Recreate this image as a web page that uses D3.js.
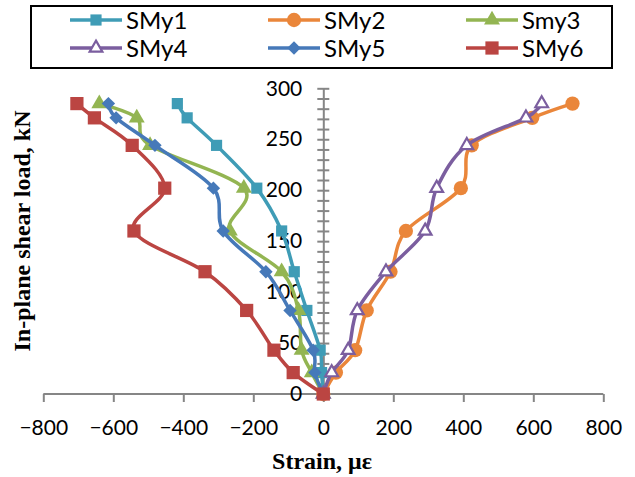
<!DOCTYPE html>
<html>
<head>
<meta charset="utf-8">
<script src="https://cdn.jsdelivr.net/npm/d3@7"></script>
<style>
  body { margin: 0; background: #fff; }
  svg { display: block; }
  .tick text { font-family: Lato, 'Liberation Sans', sans-serif; font-size: 21px; fill: #000; }
  .axis path, .axis line { stroke: #868686; stroke-width: 2; }
  .title { font-family: 'Liberation Serif', serif; font-weight: bold; font-size: 24px; }
  .legend text { font-family: Lato, 'Liberation Sans', sans-serif; font-size: 24px; }
</style>
</head>
<body>
<svg class="chart" width="635" height="477"></svg>
<script>
// in-plane shear load (kN) at each reading
const loads = [0, 21, 43, 82, 120, 160, 202, 244, 271, 285]

// strain readings (microstrain) per gauge
const smy1 = [0, -5, -9, -47, -83, -119, -190, -305, -389, -417]
const smy2 = [0, 36, 91, 124, 192, 236, 393, 424, 597, 712]
const smy3 = [0, -33, -62, -71, -119, -267, -227, -495, -533, -640]
const smy4 = [0, 24, 71, 97, 179, 291, 324, 410, 579, 624]
const smy5 = [0, -24, -29, -95, -164, -286, -314, -481, -592, -614]
const smy6 = [0, -86, -141, -219, -338, -541, -453, -546, -654, -704]

const names = ['SMy1', 'SMy2', 'Smy3', 'SMy4', 'SMy5', 'SMy6']
const xTicks = [-800, -600, -400, -200, 0, 200, 400, 600, 800]
const yTicks = [0, 50, 100, 150, 200, 250, 300]

const series = [
  { name: names[0], vals: smy1, color: '#3f9cb6', shape: 'square', size: 125 },
  { name: names[1], vals: smy2, color: '#ea863a', shape: 'circle', size: 160 },
  { name: names[2], vals: smy3, color: '#93b552', shape: 'triangle', size: 110 },
  { name: names[3], vals: smy4, color: '#7b5e9f', shape: 'opentri', size: 70 },
  { name: names[4], vals: smy5, color: '#4679b9', shape: 'diamond', size: 90 },
  { name: names[5], vals: smy6, color: '#bb4542', shape: 'square', size: 175 },
]

const svg = d3.select('svg.chart')

const x = d3.scaleLinear().domain([-800, 800]).range([43.3, 603.3])
const y = d3.scaleLinear().domain([0, 300]).range([394, 88.3])

// x axis
const xAxis = svg.append('g')
  .attr('class', 'axis')
  .attr('transform', `translate(0, ${y(0)})`)
  .call(d3.axisBottom(x).tickValues(xTicks).tickSize(8).tickPadding(18).tickSizeOuter(0))
xAxis.select('.domain').attr('d', `M${x(-800)},0H${x(800)}`)

// y axis, cross ticks every 10
const yAxis = svg.append('g')
  .attr('class', 'axis')
  .attr('transform', `translate(${x(0)}, 0)`)
  .call(d3.axisLeft(y)
    .tickValues(d3.range(0, 301, 10))
    .tickSize(6)
    .tickSizeOuter(0)
    .tickFormat((d) => { return yTicks.includes(d) ? d : '' }))
yAxis.selectAll('.tick line').attr('x1', 6).attr('x2', -6)
yAxis.selectAll('.tick text').attr('x', -21)

const symbolPath = (shape, size) => {
  if (shape === 'circle') return d3.symbol(d3.symbolCircle, size)()
  if (shape === 'square') return d3.symbol(d3.symbolSquare, size)()
  if (shape === 'diamond') return d3.symbol(d3.symbolSquare, size)()
  return d3.symbol(d3.symbolTriangle, size)()
}

const line = d3.line()
  .x((d) => { return x(d[0]) })
  .y((d) => { return y(d[1]) })
  .curve(d3.curveCardinal)

const groups = svg.selectAll('g.series')
  .data(series)
  .enter()
  .append('g')
  .attr('class', 'series')

groups.append('path')
  .attr('fill', 'none')
  .attr('stroke', (d) => { return d.color })
  .attr('stroke-width', 3.5)
  .attr('d', (d) => { return line(d.vals.map((v, i) => { return [v, loads[i]] })) })

groups.selectAll('path.mark')
  .data((d) => { return d.vals.map((v, i) => { return { s: d, v: v, load: loads[i] } }) })
  .enter()
  .append('path')
  .attr('class', 'mark')
  .attr('transform', (d) => {
    return `translate(${x(d.v)}, ${y(d.load)})` + (d.s.shape === 'diamond' ? ' rotate(45)' : '')
  })
  .attr('d', (d) => { return symbolPath(d.s.shape, d.s.size) })
  .attr('fill', (d) => { return d.s.shape === 'opentri' ? '#fff' : d.s.color })
  .attr('stroke', (d) => { return d.s.shape === 'opentri' ? d.s.color : 'none' })
  .attr('stroke-width', 2.2)

// titles
svg.append('text')
  .attr('class', 'title')
  .attr('x', 322)
  .attr('y', 469)
  .attr('text-anchor', 'middle')
  .text('Strain, με')

svg.append('text')
  .attr('class', 'title')
  .attr('transform', 'translate(30, 231) rotate(-90)')
  .attr('text-anchor', 'middle')
  .text('In-plane shear load, kN')

// legend
const legend = svg.append('g').attr('class', 'legend')
legend.append('rect')
  .attr('x', 31)
  .attr('y', 6)
  .attr('width', 581)
  .attr('height', 62)
  .attr('fill', '#fff')
  .attr('stroke', '#000')
  .attr('stroke-width', 2)

const items = legend.selectAll('g.item')
  .data(series)
  .enter()
  .append('g')
  .attr('class', 'item')
  .attr('transform', (d, i) => { return `translate(${70 + (i % 3) * 198}, ${20 + Math.floor(i / 3) * 28})` })

items.append('line')
  .attr('x1', 0)
  .attr('x2', 52)
  .attr('stroke', (d) => { return d.color })
  .attr('stroke-width', 3.5)

items.append('path')
  .attr('transform', (d) => { return 'translate(26, 0)' + (d.shape === 'diamond' ? ' rotate(45)' : '') })
  .attr('d', (d) => { return symbolPath(d.shape, d.size) })
  .attr('fill', (d) => { return d.shape === 'opentri' ? '#fff' : d.color })
  .attr('stroke', (d) => { return d.shape === 'opentri' ? d.color : 'none' })
  .attr('stroke-width', 2.2)

items.append('text')
  .attr('x', 56)
  .attr('y', 8.5)
  .text((d) => { return d.name })
</script>
</body>
</html>
